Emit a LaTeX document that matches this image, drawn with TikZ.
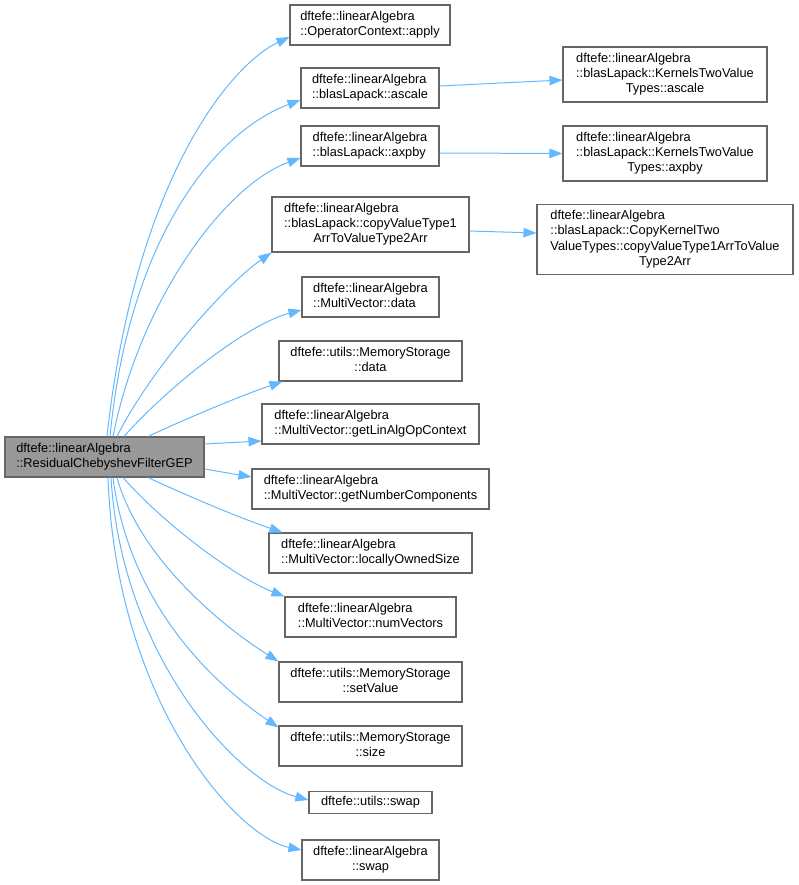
\documentclass[tikz,border=0pt]{standalone}
\usepackage{fontspec}
\setmainfont{Liberation Sans}
\usetikzlibrary{arrows.meta}

\definecolor{edgeblue}{HTML}{63B8FF}
\definecolor{boxgray}{HTML}{666666}
\definecolor{rootgray}{HTML}{999999}

\newcommand{\fnlabel}[1]{\begin{tabular}{@{}l@{}}#1\end{tabular}}
\newcommand{\midrow}[1]{\multicolumn{1}{@{}c@{}}{#1}}

\tikzset{
  fn/.style={draw=boxgray, fill=white, line width=1.1pt, inner xsep=4pt, inner ysep=5pt,
    font=\fontsize{12.8}{15}\selectfont},
  root/.style={fn, fill=rootgray},
  call/.style={draw=edgeblue, line width=1pt, -{Triangle[length=13pt,width=9.5pt]}}
}

\begin{document}
\begin{tikzpicture}[x=1pt,y=-1pt]
  \useasboundingbox (0,0) rectangle (799,885);

  % Caller
  \node[root, minimum width=199pt] (main) at (104.5,457)
    {\fnlabel{dftefe::linearAlgebra\\::ResidualChebyshevFilterGEP}};

  % Direct callees
  \node[fn, minimum width=160pt] (apply) at (370,25)
    {\fnlabel{dftefe::linearAlgebra\\::OperatorContext::apply}};
  \node[fn, minimum width=138pt] (ascale) at (370,88)
    {\fnlabel{dftefe::linearAlgebra\\::blasLapack::ascale}};
  \node[fn, minimum width=138pt] (axpby) at (370,146)
    {\fnlabel{dftefe::linearAlgebra\\::blasLapack::axpby}};
  \node[fn, minimum width=197pt] (copyarr) at (370.5,224.5)
    {\fnlabel{dftefe::linearAlgebra\\::blasLapack::copyValueType1\\\midrow{ArrToValueType2Arr}}};
  \node[fn, minimum width=137pt] (mvdata) at (370.5,297)
    {\fnlabel{dftefe::linearAlgebra\\::MultiVector::data}};
  \node[fn, minimum width=183pt] (msdata) at (370.5,361)
    {\fnlabel{dftefe::utils::MemoryStorage\\\midrow{::data}}};
  \node[fn, minimum width=217pt] (getctx) at (370.5,424)
    {\fnlabel{dftefe::linearAlgebra\\::MultiVector::getLinAlgOpContext}};
  \node[fn, minimum width=237pt] (getnum) at (370.5,489)
    {\fnlabel{dftefe::linearAlgebra\\::MultiVector::getNumberComponents}};
  \node[fn, minimum width=203pt] (locsize) at (370.5,553)
    {\fnlabel{dftefe::linearAlgebra\\::MultiVector::locallyOwnedSize}};
  \node[fn, minimum width=171pt] (numvec) at (370.5,617)
    {\fnlabel{dftefe::linearAlgebra\\::MultiVector::numVectors}};
  \node[fn, minimum width=183pt] (setval) at (370.5,682)
    {\fnlabel{dftefe::utils::MemoryStorage\\\midrow{::setValue}}};
  \node[fn, minimum width=183pt] (mssize) at (370.5,746)
    {\fnlabel{dftefe::utils::MemoryStorage\\\midrow{::size}}};
  \node[fn, minimum width=123pt] (uswap) at (370.5,802.5)
    {dftefe::utils::swap};
  \node[fn, minimum width=137pt] (laswap) at (370.5,860)
    {\fnlabel{dftefe::linearAlgebra\\\midrow{::swap}}};

  % Second level
  \node[fn, minimum width=204pt] (kascale) at (665,74.5)
    {\fnlabel{dftefe::linearAlgebra\\::blasLapack::KernelsTwoValue\\\midrow{Types::ascale}}};
  \node[fn, minimum width=204pt] (kaxpby) at (665,153.5)
    {\fnlabel{dftefe::linearAlgebra\\::blasLapack::KernelsTwoValue\\\midrow{Types::axpby}}};
  \node[fn, minimum width=256pt] (kcopy) at (665,239.5)
    {\fnlabel{dftefe::linearAlgebra\\::blasLapack::CopyKernelTwo\\ValueTypes::copyValueType1ArrToValue\\\midrow{Type2Arr}}};

  % Calls leaving the top edge
  \draw[call] ([xshift=2.5pt]main.north) .. controls (135,180) and (230,65) .. ([yshift=-12pt]apply.west);
  \draw[call] ([xshift=5.5pt]main.north) .. controls (130,230) and (220,130) .. ([yshift=-12pt]ascale.west);
  \draw[call] ([xshift=8.5pt]main.north) .. controls (140,300) and (225,185) .. ([yshift=-12pt]axpby.west);
  \draw[call] ([xshift=12.5pt]main.north) .. controls (150,370) and (225,285) .. (copyarr.south west);
  \draw[call] ([xshift=19.5pt]main.north) .. controls (165,390) and (245,325) .. ([yshift=-13pt]mvdata.west);
  \draw[call] ([xshift=43.5pt]main.north) .. controls (190,417) and (240,396) .. ([xshift=4pt]msdata.south west);

  % Calls leaving the right edge
  \draw[call] ([yshift=13pt]main.east) -- ([yshift=-17pt]getctx.west);
  \draw[call] ([yshift=-12pt]main.east) -- ([yshift=12pt]getnum.west);

  % Calls leaving the bottom edge
  \draw[call] ([xshift=43.5pt]main.south) .. controls (190,497) and (240,518) .. ([xshift=14pt]locsize.north west);
  \draw[call] ([xshift=18.5pt]main.south) .. controls (165,525) and (235,577) .. (numvec.north west);
  \draw[call] ([xshift=12.5pt]main.south) .. controls (140,560) and (225,628) .. (setval.north west);
  \draw[call] ([xshift=8.5pt]main.south) .. controls (130,610) and (220,688) .. ([yshift=-2pt]mssize.north west);
  \draw[call] ([xshift=6.5pt]main.south) .. controls (122,660) and (240,782) .. ([yshift=2.5pt]uswap.west);
  \draw[call] ([xshift=3.5pt]main.south) .. controls (116,700) and (235,836) .. ([yshift=10pt]laswap.west);

  % Second level calls
  \draw[call] ([yshift=2pt]ascale.east) -- ([yshift=-5.5pt]kascale.west);
  \draw[call] ([yshift=-7pt]axpby.east) -- (kaxpby.west);
  \draw[call] ([yshift=-6.5pt]copyarr.east) -- ([yshift=6.5pt]kcopy.west);
\end{tikzpicture}
\end{document}
